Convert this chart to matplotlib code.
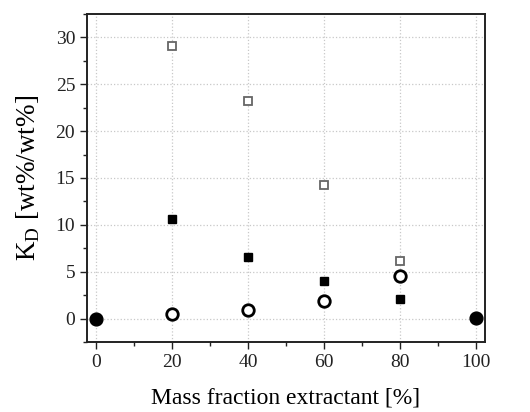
import numpy as np
import matplotlib.pyplot as plt
from matplotlib.ticker import MultipleLocator

plt.rcParams['font.family'] = 'Liberation Serif'
plt.rcParams['mathtext.fontset'] = 'custom'
plt.rcParams['mathtext.rm'] = 'Liberation Serif'

# Data
x_mix = [20, 40, 60, 80]
kd_open_sq = [29.1, 23.2, 14.2, 6.1]
kd_filled_sq = [10.6, 6.6, 4.05, 2.1]
kd_open_circ = [0.5, 0.9, 1.9, 4.5]
x_pure = [0, 100]
kd_pure = [0.0, 0.05]

fig = plt.figure(figsize=(5.3, 4.12), dpi=100)
ax = fig.add_axes([87/530, 1 - 342/412, 398/530, 328/412])

ax.plot(x_mix, kd_open_sq, 's', ms=6.3, mfc='white', mec='#666666', mew=1.3, ls='none')
ax.plot(x_mix, kd_filled_sq, 's', ms=6.3, mfc='black', mec='black', ls='none')
ax.plot(x_mix, kd_open_circ, 'o', ms=8.3, mfc='white', mec='black', mew=2.0, ls='none')
ax.plot(x_pure, kd_pure, 'o', ms=9.2, mfc='black', mec='black', ls='none')

ax.set_xlim(-2.5, 102.5)
ax.set_ylim(-2.5, 32.5)
ax.xaxis.set_major_locator(MultipleLocator(20))
ax.xaxis.set_minor_locator(MultipleLocator(10))
ax.yaxis.set_major_locator(MultipleLocator(5))
ax.yaxis.set_minor_locator(MultipleLocator(2.5))
ax.tick_params(which='both', direction='out', top=False, right=False, labelsize=14, colors='#222222')
ax.tick_params(which='major', length=5, width=1)
ax.tick_params(which='minor', length=3, width=1)
ax.grid(True, which='major', ls=':', color='#c8c8c8', lw=0.9)
ax.set_axisbelow(True)
for s in ax.spines.values():
    s.set_linewidth(1.4)
    s.set_color('#222222')

ax.set_xlabel('Mass fraction extractant [%]', fontsize=17, labelpad=12)
ax.set_ylabel(r'K$_\mathrm{D}$ [wt%/wt%]', fontsize=19.5, labelpad=10)

fig.savefig('out.png', dpi=100)
